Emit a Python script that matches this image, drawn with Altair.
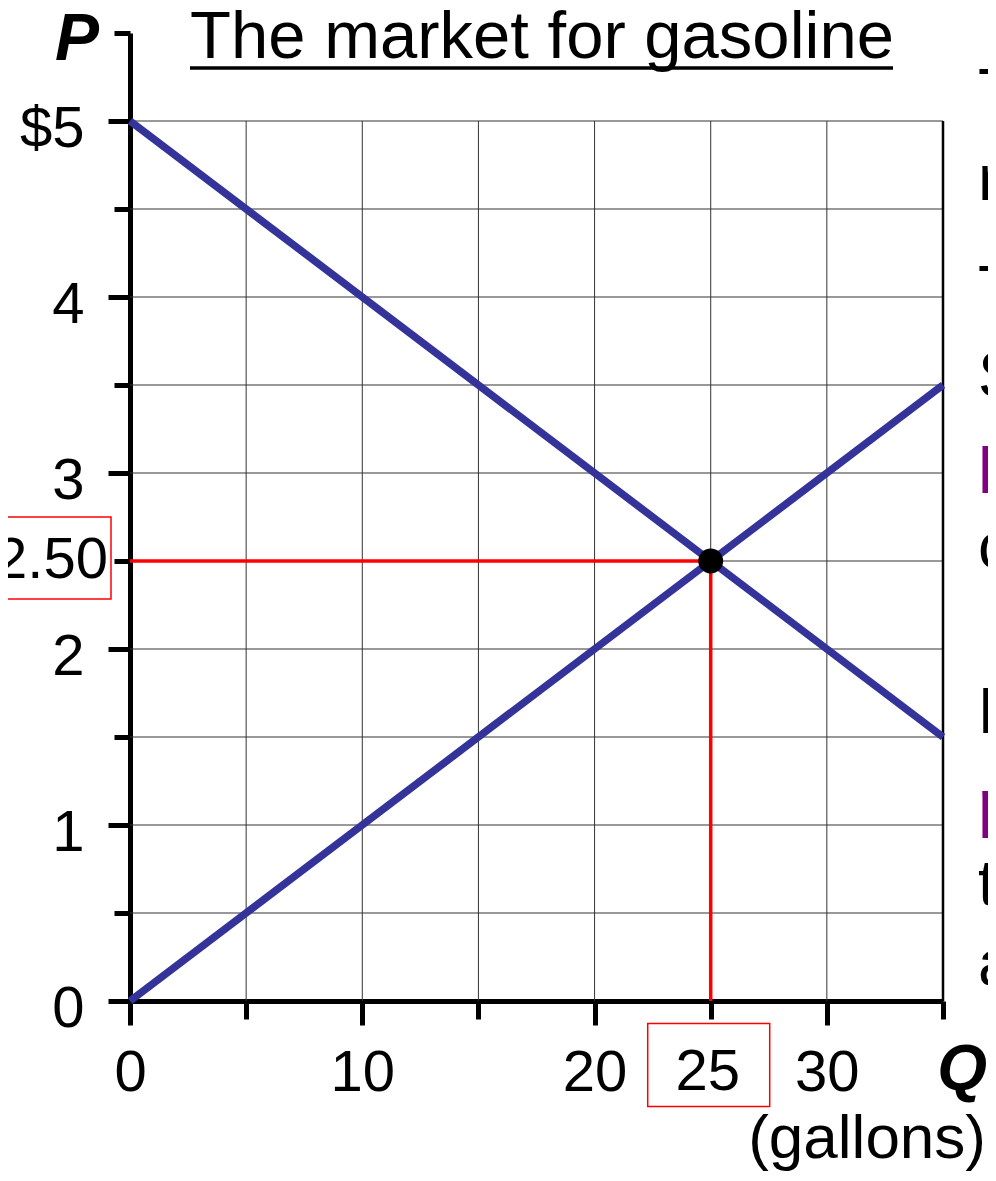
import altair as alt
import pandas as pd

# ---------------- data ----------------
q_ends = [0, 35]
demand_p = [5, 1.5]
supply_p = [0, 3.5]
eq_q = 25
eq_p = 2.5

x_ticks = [0, 5, 10, 15, 20, 25, 30, 35]
y_ticks = [0, 0.5, 1, 1.5, 2, 2.5, 3, 3.5, 4, 4.5, 5, 5.5]
grid_x = [5, 10, 15, 20, 25, 30]
grid_y = [0.5, 1, 1.5, 2, 2.5, 3, 3.5, 4, 4.5, 5]
grid_top = 5
x_max = 35

title_text = "The market for gasoline"
p_label = "P"
q_label = "Q"
unit_label = "(gallons)"
eq_price_label = "2.50"
eq_qty_label = "25"

side_letters = ["T", "m", "T", "S", "l", "c", "D", "p", "t", "a"]
side_bold = [False, False, False, False, True, False, False, True, False, False]
side_baseline_px = [81, 167, 278, 364, 460, 535, 700, 792, 872, 952]

FONT = "Liberation Sans"
BLUE = "#333399"
RED = "#ff0000"
PURPLE = "#800080"

# ---------------- scales / axes ----------------
xscale = alt.Scale(domain=[0, 35], nice=False, zero=False)
yscale = alt.Scale(domain=[0, 5.5], nice=False, zero=False)

xaxis = alt.Axis(
    values=x_ticks, title=None, grid=False,
    labelExpr="datum.value % 10 === 0 ? '' + datum.value : ''",
    tickSize={"condition": {"test": "datum.value % 10 === 0", "value": 24}, "value": 18},
    labelPadding=19, labelFontSize=58, labelFont=FONT, labelColor="black",
    labelOverlap=False, labelFlush=False, labelBound=False,
    domainWidth=5, domainColor="black", tickWidth=5, tickColor="black",
)
yaxis = alt.Axis(
    values=y_ticks, title=None, grid=False,
    labelExpr="datum.value % 1 === 0 ? (datum.value === 5 ? '$5' : '' + datum.value) : ''",
    tickSize={"condition": {"test": "datum.value % 1 === 0", "value": 22}, "value": 16},
    labelPadding=24, labelOffset=8, labelFontSize=58, labelFont=FONT, labelColor="black",
    labelOverlap=False, labelFlush=False, labelBound=False,
    domainWidth=5, domainColor="black", tickWidth=5, tickColor="black",
)


def X(f):
    return alt.X(f, type="quantitative", scale=xscale, axis=xaxis)


def Y(f):
    return alt.Y(f, type="quantitative", scale=yscale, axis=yaxis)


# ---------------- tables ----------------
gh = pd.DataFrame({"y": grid_y, "x0": 0, "x1": x_max})
gv = pd.DataFrame({"x": grid_x, "y0": 0, "y1": grid_top})
border = pd.DataFrame({"x": [x_max], "y0": [0], "y1": [grid_top]})
curves = pd.DataFrame({
    "curve": ["D", "D", "S", "S"],
    "q": q_ends + q_ends,
    "p": demand_p + supply_p,
})
eq = pd.DataFrame({"q": [eq_q], "p": [eq_p], "q0": [0], "p0": [0]})
origin = pd.DataFrame({"x": [0], "y": [5.5], "t": [p_label]})
qend = pd.DataFrame({"x": [x_max], "y": [0], "t": [q_label], "u": [unit_label]})
eqlab = pd.DataFrame({"x": [0], "y": [eq_p], "t": [eq_price_label]})
xlab = pd.DataFrame({"x": [eq_q], "y": [0], "t": [eq_qty_label]})

# ---------------- layers ----------------
grid_h = alt.Chart(gh).mark_rule(color="#333333", strokeWidth=1).encode(
    x=X("x0"), x2="x1", y=Y("y"))
grid_v = alt.Chart(gv).mark_rule(color="#333333", strokeWidth=1).encode(
    x=X("x"), y=Y("y0"), y2="y1")
grid_b = alt.Chart(border).mark_rule(color="black", strokeWidth=2.5).encode(
    x=X("x"), y=Y("y0"), y2="y1")

red_h = alt.Chart(eq).mark_rule(color=RED, strokeWidth=3.5).encode(
    x=X("q0"), x2="q", y=Y("p"))
red_v = alt.Chart(eq).mark_rule(color=RED, strokeWidth=3.5).encode(
    x=X("q"), y=Y("p0"), y2="p")

lines = alt.Chart(curves).mark_line(color=BLUE, strokeWidth=7.5, strokeCap="butt").encode(
    x=X("q"), y=Y("p"), detail="curve:N")

dot = alt.Chart(eq).mark_circle(size=620, color="black", opacity=1).encode(
    x=X("q"), y=Y("p"))

box_path_y = "M-1,-0.63L1,-0.63L1,0.63L-1,0.63Z"
box_path_x = "M-1,-0.68L1,-0.68L1,0.68L-1,0.68Z"
ybox = alt.Chart(eqlab).mark_point(
    shape=box_path_y, size=16900, filled=False, stroke=RED, strokeWidth=1.5,
    opacity=1, xOffset=-84, yOffset=-3).encode(x=X("x"), y=Y("y"))
xboxm = alt.Chart(xlab).mark_point(
    shape=box_path_x, size=14884, filled=False, stroke=RED, strokeWidth=1.5,
    opacity=1, xOffset=-2, yOffset=64).encode(x=X("x"), y=Y("y"))

eq_text = alt.Chart(eqlab).mark_text(
    align="right", baseline="middle", dx=-22, fontSize=58, font=FONT, color="black"
).encode(x=X("x"), y=Y("y"), text="t:N")

xq_text = alt.Chart(xlab).mark_text(
    align="center", baseline="alphabetic", dx=-3, dy=89, fontSize=58, font=FONT, color="black"
).encode(x=X("x"), y=Y("y"), text="t:N")

p_text = alt.Chart(origin).mark_text(
    align="right", baseline="alphabetic", dx=-31, dy=27, fontSize=66, font=FONT,
    fontStyle="italic", fontWeight="bold", color="black"
).encode(x=X("x"), y=Y("y"), text="t:N")

q_text = alt.Chart(qend).mark_text(
    align="right", baseline="alphabetic", dx=44, dy=89, fontSize=64, font=FONT,
    fontStyle="italic", fontWeight="bold", color="black"
).encode(x=X("x"), y=Y("y"), text="t:N")

u_text = alt.Chart(qend).mark_text(
    align="right", baseline="alphabetic", dx=43, dy=157, fontSize=62, font=FONT,
    color="black"
).encode(x=X("x"), y=Y("y"), text="u:N")

title_df = pd.DataFrame({"t": [title_text]})
title_mark = alt.Chart(title_df).mark_text(
    align="center", baseline="alphabetic", fontSize=67, font=FONT, color="black"
).encode(x=alt.value(412), y=alt.value(25), text="t:N")
underline = alt.Chart(title_df).mark_rule(color="black", strokeWidth=3.5).encode(
    x=alt.value(60), x2=alt.value(763), y=alt.value(35))

side_layers = []
for letter, bold, py in zip(side_letters, side_bold, side_baseline_px):
    sdf = pd.DataFrame({"t": [letter]})
    side_layers.append(
        alt.Chart(sdf).mark_text(
            align="left", baseline="alphabetic", fontSize=64, font=FONT,
            fontWeight="bold" if bold else "normal",
            color=PURPLE if bold else "black",
        ).encode(x=alt.value(848), y=alt.value(py), text="t:N")
    )

chart = alt.layer(
    grid_h, grid_v, grid_b, red_h, red_v, lines, dot, ybox, xboxm,
    eq_text, xq_text, p_text, q_text, u_text, title_mark, underline, *side_layers,
).properties(
    width=813, height=968,
    padding={"left": 122, "top": 25, "right": 45, "bottom": 170},
    autosize=alt.AutoSizeParams(type="none"),
    background="white",
).configure_view(stroke=None)

chart.save("out.html", embed_options={"renderer": "svg", "actions": False})
